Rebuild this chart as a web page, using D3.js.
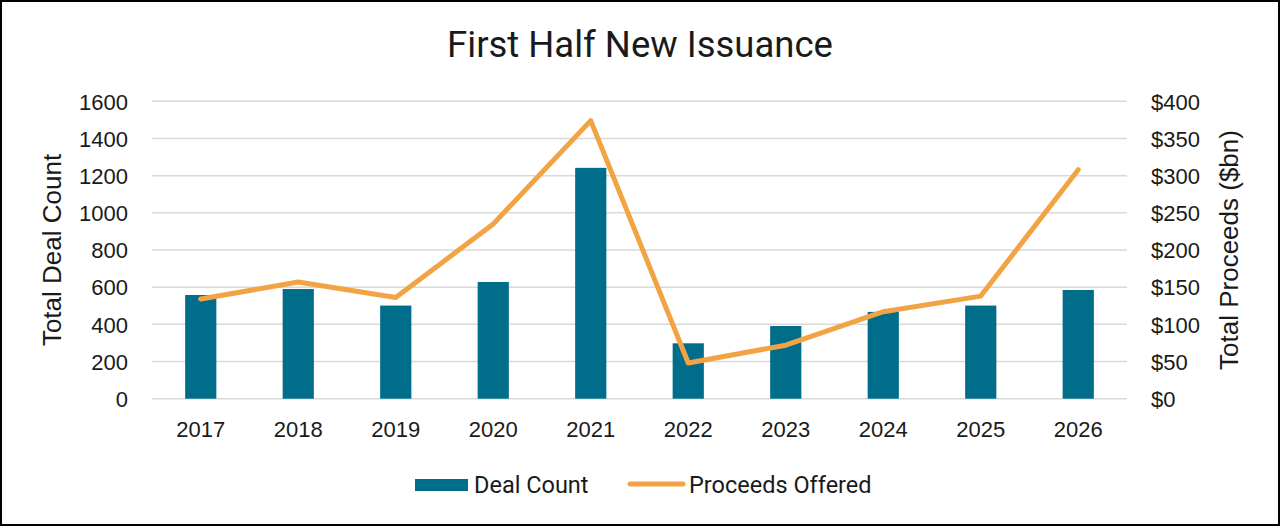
<!DOCTYPE html>
<html>
<head>
<meta charset="utf-8">
<script src="https://cdn.jsdelivr.net/npm/d3@7"></script>
<style>
  body { margin: 0; background: #fff; }
  svg { display: block; }
  text { font-family: "Liberation Sans", Arial, sans-serif; fill: #1a1a1a; }
</style>
</head>
<body>
<svg id="chart" width="1280" height="526"></svg>
<script>
var years = ["2017", "2018", "2019", "2020", "2021", "2022", "2023", "2024", "2025", "2026"];
var dealCount = [558, 590, 501, 628, 1242, 298, 391, 467, 501, 585];
var proceeds = [134, 157, 136, 235, 374, 48, 72, 117, 138, 308];
var leftTicks = [0, 200, 400, 600, 800, 1000, 1200, 1400, 1600];
var rightTicks = [0, 50, 100, 150, 200, 250, 300, 350, 400];

var svg = d3.select('#chart'),
    WIDTH = 1280,
    HEIGHT = 526,
    MARGINS = { top: 101.3, right: 153, bottom: 127.3, left: 152 };

var x = d3.scaleBand()
    .domain(years)
    .range([MARGINS.left, WIDTH - MARGINS.right])
    .paddingInner(0.68)
    .paddingOuter(0.34);
var yLeft = d3.scaleLinear().domain([0, 1600]).range([HEIGHT - MARGINS.bottom, MARGINS.top]);
var yRight = d3.scaleLinear().domain([0, 400]).range([HEIGHT - MARGINS.bottom, MARGINS.top]);

// frame
svg.append('rect')
    .attr('x', 1).attr('y', 1)
    .attr('width', WIDTH - 2).attr('height', HEIGHT - 2)
    .attr('fill', '#fff').attr('stroke', '#000').attr('stroke-width', 2);

// title
svg.append('text')
    .attr('x', 640).attr('y', 57)
    .attr('text-anchor', 'middle')
    .style('font-family', 'Roboto, sans-serif')
    .style('font-size', '36.5px')
    .text('First Half New Issuance');

// gridlines
svg.append('g').selectAll('line')
    .data(leftTicks)
    .join('line')
    .attr('x1', MARGINS.left).attr('x2', WIDTH - MARGINS.right)
    .attr('y1', function(d) { return yLeft(d); })
    .attr('y2', function(d) { return yLeft(d); })
    .attr('stroke', '#d9d9d9').attr('stroke-width', 1.5);

// left axis
var leftAxis = svg.append('g')
    .attr('transform', 'translate(' + (MARGINS.left - 24) + ',0)')
    .call(d3.axisLeft(yLeft).tickValues(leftTicks).tickSize(0).tickPadding(0)
        .tickFormat(d3.format('d')));
leftAxis.select('.domain').remove();
leftAxis.selectAll('text').style('font-size', '22px').attr('dy', '0.35em');

// right axis
var rightAxis = svg.append('g')
    .attr('transform', 'translate(' + (WIDTH - MARGINS.right + 24) + ',0)')
    .call(d3.axisRight(yRight).tickValues(rightTicks).tickSize(0).tickPadding(0)
        .tickFormat(function(d) { return '$' + d; }));
rightAxis.select('.domain').remove();
rightAxis.selectAll('text').style('font-size', '22px').attr('dy', '0.35em');

// x axis
var xAxis = svg.append('g')
    .attr('transform', 'translate(0,' + (HEIGHT - MARGINS.bottom) + ')')
    .call(d3.axisBottom(x).tickSize(0).tickPadding(23));
xAxis.select('.domain').remove();
xAxis.selectAll('text').style('font-size', '22px');

// axis titles
svg.append('text')
    .attr('transform', 'translate(61,250) rotate(-90)')
    .attr('text-anchor', 'middle')
    .style('font-size', '26px')
    .text('Total Deal Count');
svg.append('text')
    .attr('transform', 'translate(1238,250) rotate(-90)')
    .attr('text-anchor', 'middle')
    .style('font-size', '26px')
    .text('Total Proceeds ($bn)');

// bars
svg.append('g').selectAll('rect')
    .data(years)
    .join('rect')
    .attr('x', function(d) { return x(d); })
    .attr('width', x.bandwidth())
    .attr('y', function(d, i) { return yLeft(dealCount[i]); })
    .attr('height', function(d, i) { return yLeft(0) - yLeft(dealCount[i]); })
    .attr('fill', '#006e8a');

// line
var lineFunc = d3.line()
    .x(function(d, i) { return x(years[i]) + x.bandwidth() / 2; })
    .y(function(d) { return yRight(d); });
svg.append('path')
    .attr('d', lineFunc(proceeds))
    .attr('fill', 'none')
    .attr('stroke', '#f2a444')
    .attr('stroke-width', 5)
    .attr('stroke-linecap', 'round')
    .attr('stroke-linejoin', 'round');

// legend
var legend = svg.append('g');
legend.append('rect')
    .attr('x', 415).attr('y', 479).attr('width', 53).attr('height', 12)
    .attr('fill', '#006e8a');
legend.append('text')
    .attr('x', 474).attr('y', 485).attr('dy', '0.35em')
    .style('font-family', 'Roboto, sans-serif')
    .style('font-size', '23.5px')
    .text('Deal Count');
legend.append('line')
    .attr('x1', 630).attr('x2', 683).attr('y1', 484).attr('y2', 484)
    .attr('stroke', '#f2a444').attr('stroke-width', 5).attr('stroke-linecap', 'round');
legend.append('text')
    .attr('x', 689).attr('y', 485).attr('dy', '0.35em')
    .style('font-family', 'Roboto, sans-serif')
    .style('font-size', '23.5px')
    .text('Proceeds Offered');
</script>
</body>
</html>
